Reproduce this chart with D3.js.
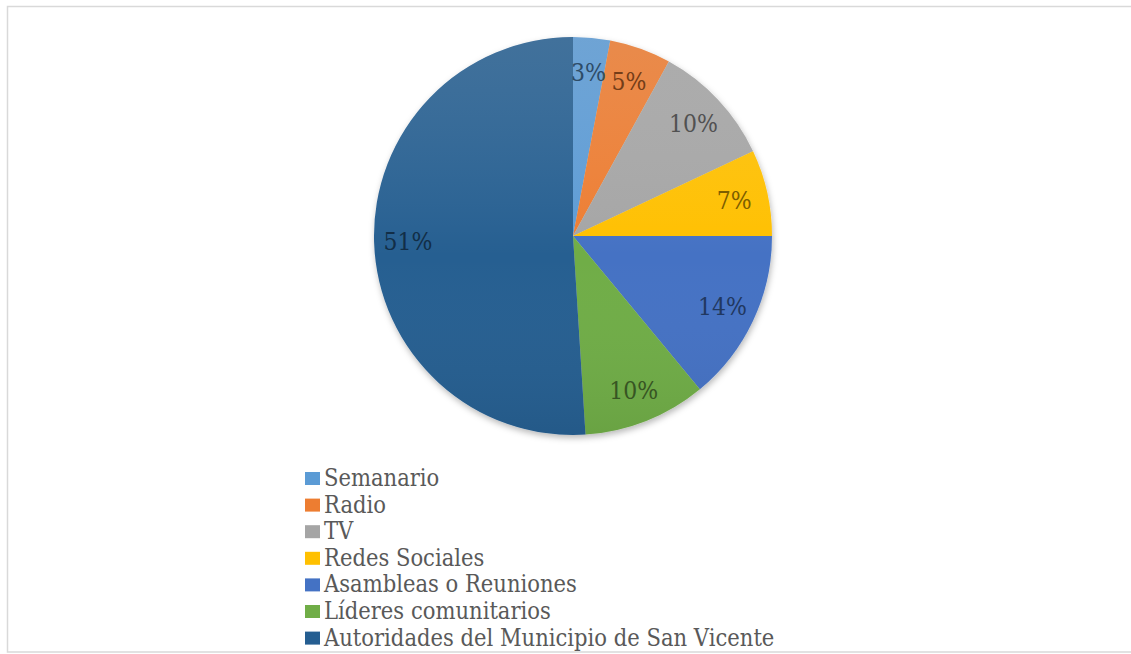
<!DOCTYPE html>
<html>
<head>
<meta charset="utf-8">
<script src="https://cdn.jsdelivr.net/npm/d3@7"></script>
<style>
  html, body { margin: 0; padding: 0; background: #ffffff; }
  svg { display: block; }
  .serif { font-family: "DejaVu Serif", serif; }
</style>
</head>
<body>
<svg id="chart" width="1131" height="654"></svg>
<script>
// Medios de información — porcentaje de respuestas
const categories = [
  "Semanario",
  "Radio",
  "TV",
  "Redes Sociales",
  "Asambleas o Reuniones",
  "Líderes comunitarios",
  "Autoridades del Municipio de San Vicente"
];
const values = [3, 5, 10, 7, 14, 10, 51];
const colors = ["#5b9bd5", "#ed7d31", "#a5a5a5", "#ffc000", "#4472c4", "#70ad47", "#255e91"];

const W = 1131, H = 654;
const cx = 573, cy = 236, R = 199;
// condensed serif look
const squeeze = 0.88;

const svg = d3.select("#chart");
const defs = svg.append("defs");

// soft shadow under the pie
const shadow = defs.append("filter").attr("id", "pieShadow")
  .attr("x", "-10%").attr("y", "-10%").attr("width", "120%").attr("height", "125%");
shadow.append("feDropShadow")
  .attr("dx", 1).attr("dy", 3).attr("stdDeviation", 3)
  .attr("flood-color", "#000").attr("flood-opacity", 0.28);

// light-to-dark sheen across the whole pie
const sheen = defs.append("linearGradient").attr("id", "sheen")
  .attr("gradientUnits", "userSpaceOnUse")
  .attr("x1", 0).attr("y1", cy - R).attr("x2", 0).attr("y2", cy + R);
sheen.append("stop").attr("offset", "0%").attr("stop-color", "#d0d0d0").attr("stop-opacity", 0.16);
sheen.append("stop").attr("offset", "55%").attr("stop-color", "#ffffff").attr("stop-opacity", 0.0);
sheen.append("stop").attr("offset", "100%").attr("stop-color", "#000000").attr("stop-opacity", 0.06);

// chart frame
svg.append("rect")
  .attr("x", 7.5).attr("y", 6.5).attr("width", W).attr("height", 645.5)
  .attr("fill", "none").attr("stroke", "#d9d9d9").attr("stroke-width", 1.5);

const color = d3.scaleOrdinal().domain(categories).range(colors);

const data = categories.map((c, i) => ({ name: c, value: values[i] }));
const pie = d3.pie().value(d => d.value).sort(null);
const arcs = pie(data);

const arc = d3.arc().innerRadius(0).outerRadius(R);
const labelArc = d3.arc().innerRadius(R * 0.83).outerRadius(R * 0.83);

const g = svg.append("g").attr("transform", `translate(${cx},${cy})`);

const slices = g.append("g").attr("filter", "url(#pieShadow)");
slices.selectAll("path")
  .data(arcs)
  .join("path")
  .attr("d", arc)
  .attr("fill", d => color(d.data.name));

g.append("circle")
  .attr("r", R)
  .attr("fill", "url(#sheen)")
  .attr("transform", `translate(${-cx},${-cy})`)
  .attr("cx", cx).attr("cy", cy)
  .attr("pointer-events", "none");

// percentage labels inside the slices
g.append("g").selectAll("text")
  .data(arcs)
  .join("text")
  .attr("class", "serif")
  .attr("transform", d => `translate(${labelArc.centroid(d)}) scale(${squeeze},1)`)
  .attr("text-anchor", "middle")
  .attr("dy", "0.36em")
  .style("font-size", "25px")
  .attr("fill", d => d3.color(color(d.data.name)).darker(2).formatHex())
  .text(d => d.data.value + "%");

// legend
const legendX = 305, legendY0 = 486, rowH = 26.6;
const legend = svg.append("g");
const rows = legend.selectAll("g")
  .data(categories)
  .join("g")
  .attr("transform", (d, i) => `translate(${legendX},${legendY0 + i * rowH})`);

rows.append("rect")
  .attr("x", 0).attr("y", -14)
  .attr("width", 15).attr("height", 13)
  .attr("fill", d => color(d));

rows.append("text")
  .attr("class", "serif")
  .attr("transform", `translate(19,0) scale(${squeeze},1)`)
  .style("font-size", "24px")
  .attr("fill", "#595959")
  .text(d => d);
</script>
</body>
</html>
